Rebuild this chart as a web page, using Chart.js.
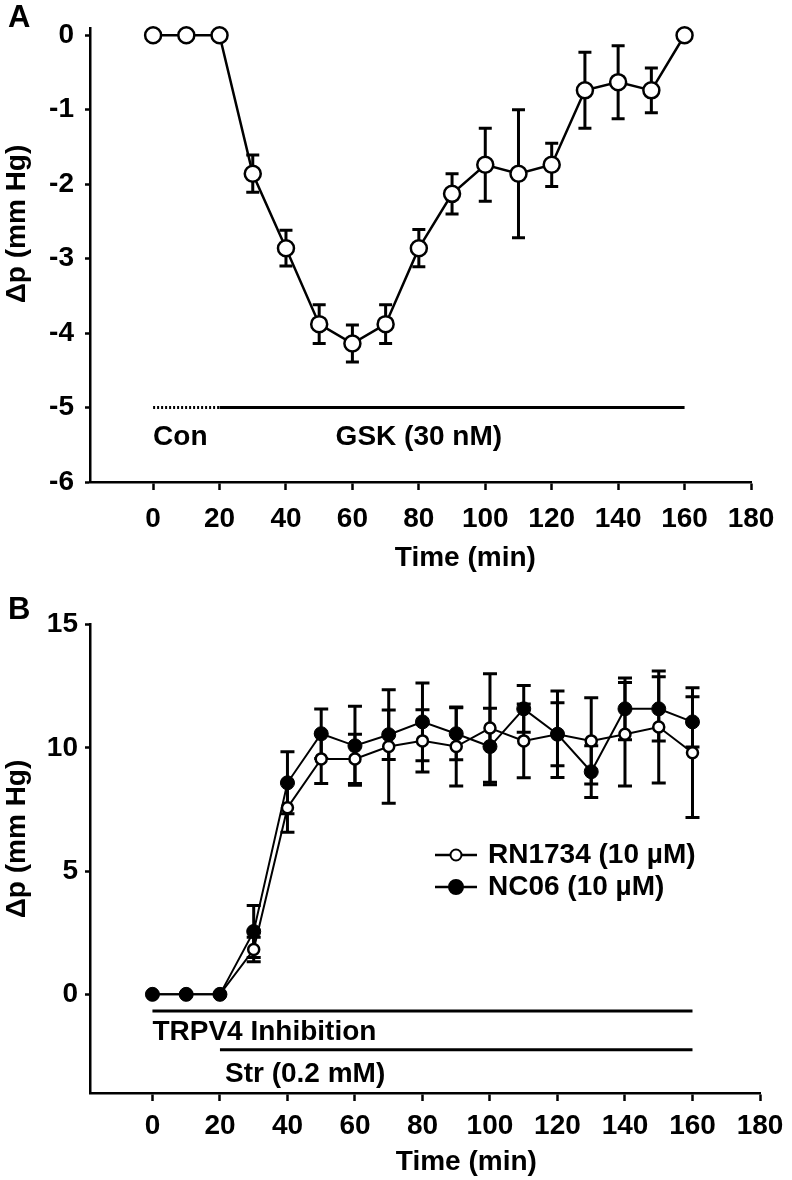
<!DOCTYPE html>
<html>
<head>
<meta charset="utf-8">
<script src="https://cdn.jsdelivr.net/npm/chart.js@4.4.1/dist/chart.umd.min.js"></script>
<style>
  body { margin: 0; background: #fff; }
  canvas { display: block; }
</style>
</head>
<body>
<canvas id="chartA" width="792" height="590"></canvas>
<canvas id="chartB" width="792" height="590"></canvas>
<script>
// time points (min), shared by both panels
const timeMin = [0, 10, 20, 30, 40, 50, 60, 70, 80, 90, 100, 110, 120, 130, 140, 150, 160];

// panel A: GSK (30 nM)
const gskMean = [0, 0, 0, -1.86, -2.86, -3.88, -4.14, -3.88, -2.86, -2.13, -1.74, -1.86, -1.74, -0.74, -0.63, -0.74, 0];
const gskSem = [0, 0, 0, 0.25, 0.24, 0.26, 0.25, 0.26, 0.25, 0.27, 0.49, 0.86, 0.29, 0.51, 0.49, 0.3, 0];

// panel B: RN1734 (open) and NC06 (filled)
const rnMean = [0, 0, 0, 1.82, 7.57, 9.55, 9.55, 10.05, 10.28, 10.05, 10.8, 10.28, 10.55, 10.28, 10.55, 10.84, 9.8];
const rnSem = [0, 0, 0, 0.5, 1.0, 1.0, 1.0, 2.3, 1.26, 1.6, 2.2, 1.5, 1.75, 1.75, 2.1, 2.27, 2.63];
const ncMean = [0, 0, 0, 2.55, 8.58, 10.57, 10.08, 10.53, 11.05, 10.57, 10.05, 11.58, 10.55, 9.03, 11.58, 11.58, 11.05];
const ncSem = [0, 0, 0, 1.05, 1.26, 1.0, 1.6, 1.0, 1.58, 1.05, 1.55, 0.95, 1.28, 1.05, 1.25, 1.3, 1.02];

// treatment bars: [from, to] in min, at a y level
const conBar = [0, 20];
const gskBar = [20, 160];
const barLevelA = -5;
const trpvBar = [0, 160];
const trpvLevel = -0.67;
const strBar = [20, 160];
const strLevel = -2.25;

const xTicks = [0, 20, 40, 60, 80, 100, 120, 140, 160, 180];
const yTicksA = [0, -1, -2, -3, -4, -5, -6];
const yTicksB = [0, 5, 10, 15];

const FONT = "'Liberation Sans', Arial, sans-serif";
const TXT = 28;

function pts(ys) {
  return timeMin.map((t, i) => ({ x: t, y: ys[i] }));
}
function bar(range, level) {
  return [{ x: range[0], y: level }, { x: range[1], y: level }];
}

const errorBarPlugin = {
  id: "errorBars",
  beforeDatasetsDraw(chart) {
    const ctx = chart.ctx;
    const xs = chart.scales.x;
    const ys = chart.scales.y;
    chart.data.datasets.forEach((ds) => {
      if (!ds.errors) return;
      ctx.save();
      ctx.strokeStyle = "#000";
      ctx.lineWidth = ds.errorWidth;
      ds.data.forEach((p, j) => {
        const e = ds.errors[j];
        if (!e) return;
        const px = xs.getPixelForValue(p.x);
        const top = ys.getPixelForValue(p.y + e);
        const bot = ys.getPixelForValue(p.y - e);
        const h = ds.capWidth / 2;
        ctx.beginPath();
        ctx.moveTo(px, top);
        ctx.lineTo(px, bot);
        ctx.moveTo(px - h, top);
        ctx.lineTo(px + h, top);
        ctx.moveTo(px - h, bot);
        ctx.lineTo(px + h, bot);
        ctx.stroke();
      });
      ctx.restore();
    });
  },
};

// free text: data coords (x,y) or pixel coords (px,py)
const textPlugin = {
  id: "freeText",
  afterDraw(chart, args, opts) {
    const ctx = chart.ctx;
    (opts.items || []).forEach((it) => {
      let x = it.px, y = it.py;
      if (it.x !== undefined) x = chart.scales.x.getPixelForValue(it.x);
      if (it.y !== undefined) y = chart.scales.y.getPixelForValue(it.y);
      ctx.save();
      ctx.fillStyle = "#000";
      ctx.font = "bold " + (it.size || TXT) + "px " + FONT;
      ctx.textAlign = it.align || "left";
      ctx.textBaseline = "middle";
      ctx.translate(x, y);
      if (it.rotate) ctx.rotate(it.rotate);
      ctx.fillText(it.text, 0, 0);
      ctx.restore();
    });
  },
};

const legendPlugin = {
  id: "lineLegend",
  afterDraw(chart, args, opts) {
    if (!opts.rows) return;
    const ctx = chart.ctx;
    opts.rows.forEach((r) => {
      ctx.save();
      ctx.strokeStyle = "#000";
      ctx.lineWidth = 2.5;
      ctx.beginPath();
      ctx.moveTo(opts.x, r.y);
      ctx.lineTo(opts.x + 42, r.y);
      ctx.stroke();
      ctx.beginPath();
      ctx.arc(opts.x + 21, r.y, r.filled ? 7 : 5.5, 0, Math.PI * 2);
      ctx.fillStyle = r.filled ? "#000" : "#fff";
      ctx.fill();
      ctx.lineWidth = 2;
      ctx.stroke();
      ctx.fillStyle = "#000";
      ctx.font = "bold " + TXT + "px " + FONT;
      ctx.textAlign = "left";
      ctx.textBaseline = "middle";
      ctx.fillText(r.text, opts.x + 53, r.y);
      ctx.restore();
    });
  },
};

function xAxis(min, max, height, labelPad) {
  return {
    type: "linear",
    min: min,
    max: max,
    afterBuildTicks: (s) => { s.ticks = xTicks.map((v) => ({ value: v })); },
    afterFit: (s) => { s.height = height; },
    grid: { drawOnChartArea: false, drawTicks: true, tickLength: 8, tickWidth: 2.5, tickColor: "#000" },
    border: { display: true, color: "#000", width: 2.5 },
    ticks: { color: "#000", padding: labelPad, maxRotation: 0, font: { family: FONT, size: TXT, weight: "bold" } },
  };
}

function yAxis(min, max, tickList, labelPad) {
  return {
    min: min,
    max: max,
    afterBuildTicks: (s) => { s.ticks = tickList.map((v) => ({ value: v })); },
    afterFit: (s) => { s.width = 90; },
    grid: { drawOnChartArea: false, drawTicks: true, tickLength: 5, tickWidth: 2.5, tickColor: "#000" },
    border: { display: true, color: "#000", width: 2.5 },
    ticks: { color: "#000", padding: labelPad, font: { family: FONT, size: TXT, weight: "bold" } },
  };
}

function initChartA() {
  const ctx = document.getElementById("chartA").getContext("2d");
  new Chart(ctx, {
    type: "line",
    data: {
      datasets: [
        {
          label: "GSK (30 nM)",
          data: pts(gskMean),
          errors: gskSem,
          errorWidth: 3,
          capWidth: 13,
          borderColor: "#000",
          borderWidth: 2.5,
          pointRadius: 8,
          pointBorderWidth: 2.5,
          pointBackgroundColor: "#fff",
          pointBorderColor: "#000",
          tension: 0,
          clip: false,
        },
        {
          label: "Con",
          data: bar(conBar, barLevelA),
          borderColor: "#000",
          borderWidth: 3,
          borderDash: [2, 2],
          pointRadius: 0,
          clip: false,
        },
        {
          label: "GSK",
          data: bar(gskBar, barLevelA),
          borderColor: "#000",
          borderWidth: 3,
          pointRadius: 0,
          clip: false,
        },
      ],
    },
    options: {
      responsive: false,
      animation: false,
      layout: { padding: { top: 26.5, right: 41, bottom: 0, left: 0 } },
      plugins: {
        legend: { display: false },
        tooltip: { enabled: false },
        freeText: {
          items: [
            { text: "A", px: 8, py: 18, size: 31 },
            { text: "Δp (mm Hg)", px: 17, py: 224, rotate: -Math.PI / 2, align: "center" },
            { text: "Con", x: 0, y: -5.4 },
            { text: "GSK (30 nM)", x: 80, y: -5.4, align: "center" },
            { text: "Time (min)", x: 94, py: 558, align: "center" },
          ],
        },
      },
      scales: {
        x: xAxis(-19, 180, 108, 12),
        y: yAxis(-6, 0.1, yTicksA, 11),
      },
    },
    plugins: [errorBarPlugin, textPlugin],
  });
}

function initChartB() {
  const ctx = document.getElementById("chartB").getContext("2d");
  new Chart(ctx, {
    type: "line",
    data: {
      datasets: [
        {
          label: "NC06 (10 µM)",
          data: pts(ncMean),
          errors: ncSem,
          errorWidth: 3,
          capWidth: 14,
          borderColor: "#000",
          borderWidth: 2,
          pointRadius: 7,
          pointBorderWidth: 1,
          pointBackgroundColor: "#000",
          pointBorderColor: "#000",
          tension: 0,
          clip: false,
        },
        {
          label: "RN1734 (10 µM)",
          data: pts(rnMean),
          errors: rnSem,
          errorWidth: 3,
          capWidth: 14,
          borderColor: "#000",
          borderWidth: 2,
          pointRadius: 5.5,
          pointBorderWidth: 2.5,
          pointBackgroundColor: "#fff",
          pointBorderColor: "#000",
          tension: 0,
          clip: false,
        },
        {
          label: "TRPV4",
          data: bar(trpvBar, trpvLevel),
          borderColor: "#000",
          borderWidth: 3,
          pointRadius: 0,
          clip: false,
        },
        {
          label: "Str",
          data: bar(strBar, strLevel),
          borderColor: "#000",
          borderWidth: 3,
          pointRadius: 0,
          clip: false,
        },
      ],
    },
    options: {
      responsive: false,
      animation: false,
      layout: { padding: { top: 34.5, right: 32, bottom: 0, left: 0 } },
      plugins: {
        legend: { display: false },
        tooltip: { enabled: false },
        freeText: {
          items: [
            { text: "B", px: 8, py: 20, size: 31 },
            { text: "Δp (mm Hg)", px: 17, py: 249, rotate: -Math.PI / 2, align: "center" },
            { text: "TRPV4 Inhibition", x: 0, y: -1.54 },
            { text: "Str (0.2 mM)", x: 21.5, y: -3.24 },
            { text: "Time (min)", x: 93, py: 572, align: "center" },
          ],
        },
        lineLegend: {
          x: 435,
          rows: [
            { text: "RN1734 (10 µM)", y: 265, filled: false },
            { text: "NC06 (10 µM)", y: 297, filled: true },
          ],
        },
      },
      scales: {
        x: xAxis(-18.5, 180, 87, 8),
        y: yAxis(-4, 15, yTicksB, 7),
      },
    },
    plugins: [errorBarPlugin, textPlugin, legendPlugin],
  });
}

window.onload = function () {
  initChartA();
  initChartB();
};
</script>
</body>
</html>
